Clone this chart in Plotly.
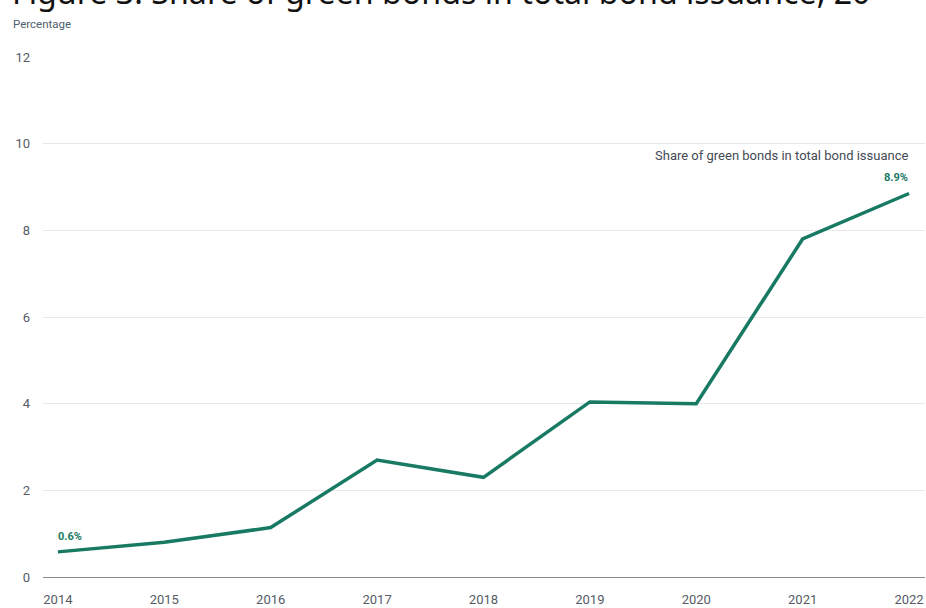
import plotly.graph_objects as go

years = [2014, 2015, 2016, 2017, 2018, 2019, 2020, 2021, 2022]
share = [0.58, 0.80, 1.14, 2.70, 2.30, 4.04, 4.00, 7.80, 8.85]
y_ticks = [0, 2, 4, 6, 8, 10, 12]
x_labels = [str(y) for y in years]
series_name = "Share of green bonds in total bond issuance"
first_label = "0.6%"
last_label = "8.9%"
title_text = "Figure 3: Share of green bonds in total bond issuance, 20"
y_title = "Percentage"

teal = "#197a64"
grey_text = "#555b66"

W, H = 926, 608
ML, MR, MT, MB = 43, 1, 57, 29
PW, PH = W - ML - MR, H - MT - MB


def px_x(x):
    return (x - ML) / PW


def px_y(y):
    return (H - MB - y) / PH


fig = go.Figure()
fig.add_trace(go.Scatter(x=years, y=share, mode="lines",
                         line=dict(color=teal, width=3.5), hoverinfo="skip",
                         showlegend=False))

fig.add_annotation(x=years[0], y=share[0], text=f"<b>{first_label}</b>", xref="x", yref="y",
                   xanchor="left", yanchor="bottom", yshift=7, xshift=-2, showarrow=False,
                   font=dict(family="Roboto", size=11, color=teal))
fig.add_annotation(x=years[-1], y=share[-1], text=f"<b>{last_label}</b>", xref="x", yref="y",
                   xanchor="right", yanchor="bottom", yshift=8, xshift=1, showarrow=False,
                   font=dict(family="Roboto", size=11, color=teal))
fig.add_annotation(x=years[-1], y=share[-1], text=series_name, xref="x", yref="y",
                   xanchor="right", yanchor="bottom", yshift=29, xshift=2, showarrow=False,
                   font=dict(family="Roboto", size=13, color="#444a55"))
fig.add_annotation(x=px_x(11), y=px_y(24), text=y_title, xref="paper", yref="paper",
                   xanchor="left", yanchor="middle", showarrow=False,
                   font=dict(family="Roboto", size=11.5, color="#4f5e6e"))
# title partially cut by the top edge
fig.add_annotation(x=px_x(10), y=px_y(15), text=title_text, xref="paper", yref="paper",
                   xanchor="left", yanchor="bottom", showarrow=False,
                   font=dict(family="Noto Sans", size=32.2, color="#111111"))

fig.update_layout(
    width=W, height=H,
    margin=dict(l=ML, r=MR, t=MT, b=MB),
    plot_bgcolor="white", paper_bgcolor="white",
    xaxis=dict(range=[2013.86, 2022.15], tickvals=years, ticktext=x_labels,
               showgrid=False, zeroline=False, showline=False,
               ticks="", ticklabelstandoff=13,
               tickfont=dict(family="Roboto", size=13, color=grey_text)),
    yaxis=dict(range=[0, 12], tickvals=y_ticks, showgrid=True, gridcolor="#e8e8e8",
               gridwidth=1, zeroline=True, zerolinecolor="#888888", zerolinewidth=1,
               ticks="", ticklabelstandoff=12,
               tickfont=dict(family="Roboto", size=13, color=grey_text)),
)

fig.write_html("out.html")
